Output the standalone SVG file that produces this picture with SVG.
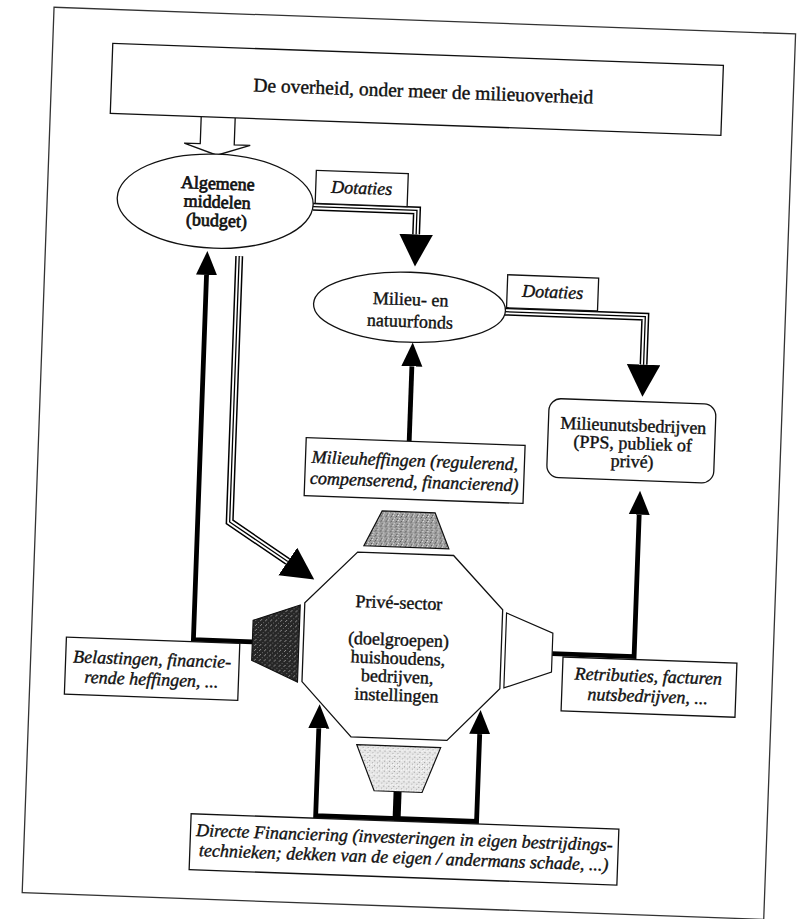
<svg xmlns="http://www.w3.org/2000/svg" width="799" height="919" viewBox="0 0 799 919">
<defs>
<style>
.frame{fill:none;stroke:#333;stroke-width:1.3}
.box{fill:#fff;stroke:#111;stroke-width:1.3}
.t{font-family:"Liberation Serif","Times New Roman",serif;font-size:18px;text-anchor:middle;fill:#111;stroke:#111;stroke-width:0.4}
.i{font-style:italic}
.thick{fill:none;stroke:#000;stroke-width:4.8;stroke-linejoin:miter}
.tr1{fill:none;stroke:#000;stroke-width:8;stroke-linejoin:miter}
.tr2{fill:none;stroke:#fff;stroke-width:5;stroke-linejoin:miter}
.tr3{fill:none;stroke:#000;stroke-width:1.3;stroke-linejoin:miter}
.trap{stroke:#111;stroke-width:1.2}
</style>
<marker id="ah" markerUnits="userSpaceOnUse" markerWidth="25" markerHeight="22" refX="0" refY="11" orient="auto"><path d="M0,0.5 L24,11 L0,21.5 Z" fill="#000"/></marker>
<marker id="bh" markerUnits="userSpaceOnUse" markerWidth="33" markerHeight="34" refX="0" refY="16.75" orient="auto"><path d="M0,0 L32,16.75 L0,33.5 Z" fill="#000"/></marker>
<pattern id="pMid" width="5" height="5" patternUnits="userSpaceOnUse">
<rect width="5" height="5" fill="#a0a0a0"/>
<rect x="0" y="0" width="1" height="1" fill="#eeeeee"/>
<rect x="3" y="1" width="1" height="1" fill="#4a4a4a"/>
<rect x="1" y="3" width="1" height="1" fill="#dddddd"/>
<rect x="4" y="4" width="1" height="1" fill="#555555"/>
<rect x="2" y="2" width="1" height="1" fill="#777777"/>
</pattern>
<pattern id="pDark" width="5" height="5" patternUnits="userSpaceOnUse">
<rect width="5" height="5" fill="#262626"/>
<rect x="1" y="0" width="1" height="1" fill="#8a8a8a"/>
<rect x="4" y="2" width="1" height="1" fill="#6a6a6a"/>
<rect x="2" y="4" width="1" height="1" fill="#9a9a9a"/>
</pattern>
<pattern id="pLight" width="5" height="5" patternUnits="userSpaceOnUse">
<rect width="5" height="5" fill="#e6e6e6"/>
<rect x="0" y="1" width="1" height="1" fill="#999999"/>
<rect x="3" y="3" width="1" height="1" fill="#aaaaaa"/>
<rect x="2" y="0" width="1" height="1" fill="#ffffff"/>
<rect x="4" y="4" width="1" height="1" fill="#ffffff"/>
</pattern>
</defs>
<rect width="799" height="919" fill="#fff"/>
<g transform="rotate(2.06 400 460)">
<rect id="page-frame" class="frame" x="38" y="20" width="742" height="886"/>

<g id="connectors">
<path d="M189,124 V151 H173 L206,162 L239,151 H223 V124" fill="#fff" stroke="#111" stroke-width="1.3"/>
<path class="tr1" d="M304,210 H408 V234" marker-end="url(#bh)"/>
<path class="tr2" d="M304,210 H408 V234"/>
<path class="tr3" d="M304,210 H408 V234"/>
<path class="tr1" d="M499,308 H640 V356" marker-end="url(#bh)"/>
<path class="tr2" d="M499,308 H640 V356"/>
<path class="tr3" d="M499,308 H640 V356"/>
<path class="tr1" d="M232,262 V528 L291.5,565.5" marker-end="url(#bh)"/>
<path class="tr2" d="M232,262 V528 L291.5,565.5"/>
<path class="tr3" d="M232,262 V528 L291.5,565.5"/>
<path class="thick" d="M259,647 H200 V282" marker-end="url(#ah)"/>
<path class="thick" d="M408.5,441 V366" marker-end="url(#ah)"/>
<path class="thick" d="M559,648 H641 V506" marker-end="url(#ah)"/>
<path class="thick" d="M411,818.5 H328.5 V731" marker-end="url(#ah)"/>
<path class="thick" d="M407,818.5 H489.5 V731" marker-end="url(#ah)"/>
<rect x="405.5" y="791.5" width="8" height="27" fill="#000"/>
</g>

<g id="overheid">
<rect class="box" x="98" y="54" width="611" height="70"/>
<text class="t" x="410" y="97" style="font-size:19.5px">De overheid, onder meer de milieuoverheid</text>
</g>

<g id="algemene-middelen">
<ellipse class="box" cx="206" cy="208" rx="98" ry="47"/>
<text class="t" x="208" y="196" style="stroke-width:0.7">Algemene</text>
<text class="t" x="208" y="214.5" style="stroke-width:0.7">middelen</text>
<text class="t" x="208" y="233" style="stroke-width:0.7">(budget)</text>
</g>

<g id="dotaties-1">
<rect class="box" x="306" y="173.5" width="92" height="33"/>
<text class="t i" x="352" y="195.5">Dotaties</text>
</g>

<g id="milieu-natuurfonds">
<ellipse class="box" cx="404" cy="307" rx="96" ry="35"/>
<text class="t" x="405" y="305">Milieu- en</text>
<text class="t" x="405" y="327">natuurfonds</text>
</g>

<g id="dotaties-2">
<rect class="box" x="501" y="271" width="91" height="33"/>
<text class="t i" x="546.5" y="292.5">Dotaties</text>
</g>

<g id="milieunutsbedrijven">
<rect class="box" x="547" y="393" width="167" height="79" rx="12"/>
<text class="t" x="632" y="423">Milieunutsbedrijven</text>
<text class="t" x="632" y="441">(PPS, publiek of</text>
<text class="t" x="632" y="459">privé)</text>
</g>

<g id="milieuheffingen">
<rect class="box" x="305.5" y="441" width="219" height="58"/>
<text class="t i" x="415" y="466">Milieuheffingen (regulerend,</text>
<text class="t i" x="415" y="487">compenserend, financierend)</text>
</g>

<g id="trap-top">
<polygon class="trap" fill="url(#pMid)" points="384,511.5 437,511.5 452,547 367,547"/>
</g>
<g id="trap-left">
<polygon class="trap" fill="url(#pDark)" points="259,625.5 305.5,608.5 305.5,685.5 259,665.5"/>
</g>
<g id="trap-right">
<polygon class="trap" fill="#fff" points="512,609 559,627.5 559,666.5 512,684"/>
</g>
<g id="trap-bottom">
<polygon class="trap" fill="url(#pLight)" points="367,746 451,746 434,791.5 386,791.5"/>
</g>

<g id="prive-sector">
<polygon class="box" stroke-width="1.5" points="361,553.5 457,553.5 508,606 508,685 457,738.5 361,738.5 310,685 310,606"/>
<text class="t" x="404" y="608.5">Privé-sector</text>
<text class="t" x="405" y="645.5">(doelgroepen)</text>
<text class="t" x="405" y="664">huishoudens,</text>
<text class="t" x="405" y="682.5">bedrijven,</text>
<text class="t" x="405" y="701">instellingen</text>
</g>

<g id="belastingen">
<rect class="box" x="73" y="649" width="173.5" height="57"/>
<text class="t i" x="159.5" y="674">Belastingen, financie-</text>
<text class="t i" x="159.5" y="694">rende heffingen, ...</text>
</g>

<g id="retributies">
<rect class="box" x="570" y="651" width="174" height="54"/>
<text class="t i" x="656" y="673">Retributies, facturen</text>
<text class="t i" x="656" y="693">nutsbedrijven, ...</text>
</g>

<g id="directe-financiering">
<rect class="box" x="204" y="821" width="428" height="56"/>
<text class="t i" x="418" y="843">Directe Financiering (investeringen in eigen bestrijdings-</text>
<text class="t i" x="418" y="863">technieken; dekken van de eigen / andermans schade, ...)</text>
</g>
</g>
</svg>
